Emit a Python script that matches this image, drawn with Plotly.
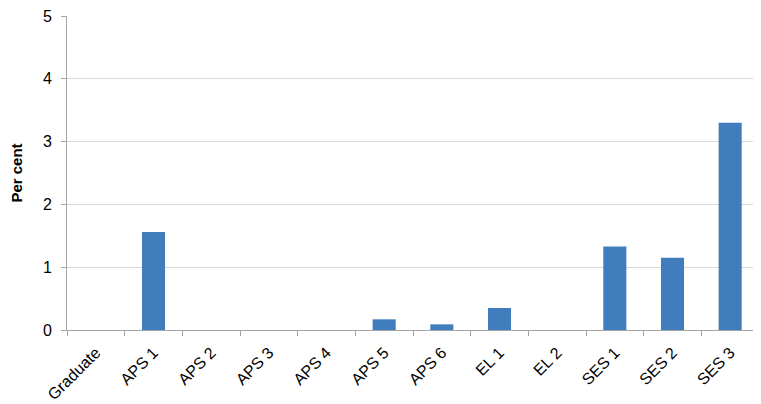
import plotly.graph_objects as go

# Grade levels and share (per cent)
grades = ["Graduate", "APS 1", "APS 2", "APS 3", "APS 4", "APS 5", "APS 6",
          "EL 1", "EL 2", "SES 1", "SES 2", "SES 3"]
per_cent = [0, 1.56, 0, 0, 0, 0.17, 0.09, 0.35, 0, 1.33, 1.15, 3.30]

fig = go.Figure()
fig.add_trace(
    go.Bar(
        x=grades,
        y=per_cent,
        marker=dict(color="#417dbd", line=dict(width=0)),
    )
)

# page adds ~8px body margin, so the figure is a bit smaller than the window
fig.update_layout(
    width=753,
    height=396,
    margin=dict(l=59, r=2, t=8, b=74),
    plot_bgcolor="white",
    paper_bgcolor="white",
    bargap=0.6,
    showlegend=False,
    font=dict(family="Liberation Sans, Arial, sans-serif", color="black", size=15),
    xaxis=dict(
        automargin=False,
        tickangle=-45,
        tickson="boundaries",
        ticks="outside",
        ticklen=5,
        tickcolor="#a6a6a6",
        showline=True,
        linecolor="#a6a6a6",
        showgrid=False,
        ticklabelstandoff=6,
        tickfont=dict(size=16),
    ),
    yaxis=dict(
        automargin=False,
        range=[0, 5],
        dtick=1,
        ticks="outside",
        ticklen=5,
        tickcolor="#a6a6a6",
        showline=True,
        linecolor="#a6a6a6",
        gridcolor="#d9d9d9",
        zeroline=False,
        ticklabeloverflow="allow",
        ticklabelstandoff=6,
        tickfont=dict(size=16),
        title=dict(text="<b>Per cent</b>", font=dict(size=15), standoff=22),
    ),
)

fig.write_html("out.html")
